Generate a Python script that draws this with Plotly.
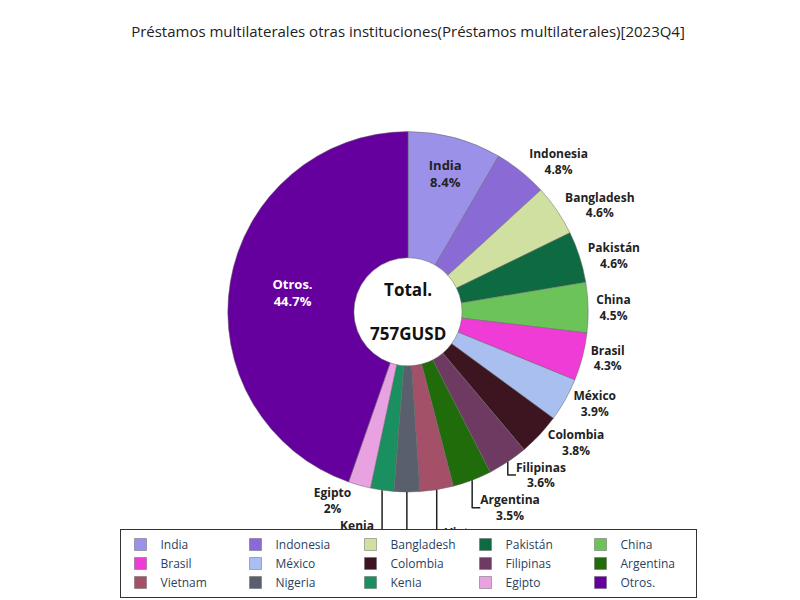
import plotly.graph_objects as go

labels = ["India","Indonesia","Bangladesh","Pakistán","China","Brasil","México","Colombia",
          "Filipinas","Argentina","Vietnam","Nigeria","Kenia","Egipto","Otros."]
values = [8.4,4.8,4.6,4.6,4.5,4.3,3.9,3.8,3.6,3.5,3,2.3,2.1,2,44.7]
colors = ["#9b91e9","#8a6bd6","#cfe0a0","#0e6a40","#6cc35a","#f03cd6","#a9bff0","#3c1520",
          "#6e3a62","#206b0a","#a35068","#5a5f6e","#1a8f60","#e8a2e2","#65009e"]
positions = ["inside"] + ["outside"]*13 + ["inside"]
tcolors = ["#222"] + ["#222"]*13 + ["white"]

fig = go.Figure(go.Pie(
    labels=labels, values=values, sort=False, direction="clockwise", rotation=0,
    hole=0.3, marker=dict(colors=colors, line=dict(color="#666", width=0.5)),
    texttemplate="<b>%{label}</b><br><b>%{value}%</b>", textposition=positions,
    insidetextfont=dict(color=tcolors, size=13), outsidetextfont=dict(color="#222", size=12),
    insidetextorientation="horizontal", automargin=False,
    domain=dict(x=[0.1,0.9], y=[0.2,0.88])))
fig.add_annotation(text="<b>Total.</b><br><br><b>757GUSD</b>", x=0.5, y=0.54, xref="paper", yref="paper",
                   showarrow=False, font=dict(size=17, color="#111"))
fig.update_layout(
    width=800, height=600, paper_bgcolor="white", plot_bgcolor="white",
    font=dict(family="Open Sans, Noto Sans, sans-serif"),
    title=dict(text="Préstamos multilaterales otras instituciones(Préstamos multilaterales)[2023Q4]",
               x=0.5, y=0.97, font=dict(size=15, color="#222")),
    margin=dict(l=60, r=60, t=60, b=10),
    legend=dict(orientation="h", x=0.5, xanchor="center", y=0.0, yanchor="bottom",
                bordercolor="#333", borderwidth=1, font=dict(size=12),
                entrywidthmode="pixels", entrywidth=70),
)
fig.write_html("out.html")
